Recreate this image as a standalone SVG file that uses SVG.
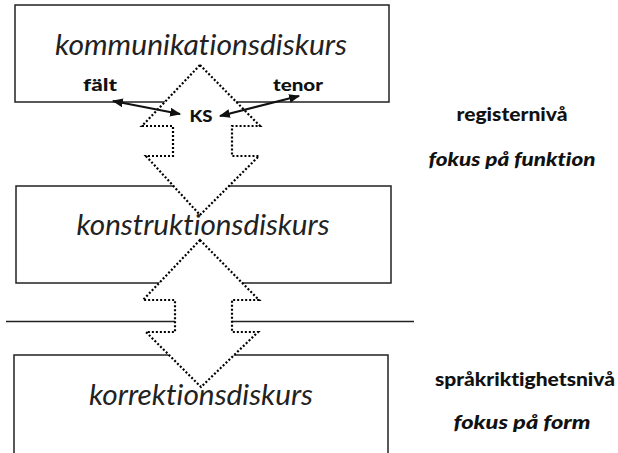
<svg xmlns="http://www.w3.org/2000/svg" width="618" height="453" viewBox="0 0 618 453">
<style>
text{font-variant-ligatures:none;font-feature-settings:"liga" 0}
.box{fill:#fff;stroke:#222;stroke-width:1.5}
.dot{fill:#fff;stroke:#000;stroke-width:2.2;stroke-dasharray:2 2}
.big{font-family:Lato,"Open Sans",sans-serif;font-style:italic;font-size:28px;fill:#222;text-anchor:middle}
.lbl{font-family:Lato,"Open Sans",sans-serif;font-weight:900;font-size:17px;fill:#111;text-anchor:middle}
.side{font-family:Lato,"Open Sans",sans-serif;font-weight:900;font-size:18.5px;fill:#111;text-anchor:middle}
.it{font-style:italic}
.conn{stroke:#111;stroke-width:2;fill:none}
</style>
<defs>
<marker id="ah" viewBox="0 0 10 8" refX="9" refY="4" markerWidth="11" markerHeight="9" markerUnits="userSpaceOnUse" orient="auto-start-reverse">
<path d="M0,0 L10,4 L0,8 Z" fill="#111"/>
</marker>
</defs>
<rect width="618" height="453" fill="#fff"/>
<g id="box-kommunikation"><rect class="box" x="15" y="5" width="374" height="97"/></g>
<g id="box-konstruktion"><rect class="box" x="16" y="186" width="375" height="97"/></g>
<g id="box-korrektion"><rect class="box" x="14" y="355" width="374" height="100"/></g>
<g id="divider"><line x1="6" y1="321.5" x2="414" y2="321.5" stroke="#222" stroke-width="1.5"/></g>
<g id="arrow-1"><path class="dot" d="M200,65 L260,126 L232,126 L232,156 L259,156 L200,215 L146,156 L173,156 L173,126 L142,126 Z"/></g>
<g id="arrow-2"><path class="dot" d="M200,240 L259,300 L232,300 L232,332 L258,332 L201,387 L146,332 L175,332 L175,300 L143,300 Z"/></g>
<g id="connectors">
<line class="conn" x1="113" y1="101" x2="180" y2="114" marker-start="url(#ah)" marker-end="url(#ah)"/>
<line class="conn" x1="220" y1="116" x2="299" y2="96" marker-start="url(#ah)" marker-end="url(#ah)"/>
</g>
<g id="texts">
<text class="big" x="201" y="55" textLength="292" lengthAdjust="spacingAndGlyphs">kommunikationsdiskurs</text>
<text class="big" x="203" y="235" textLength="253" lengthAdjust="spacingAndGlyphs">konstruktionsdiskurs</text>
<text class="big" x="201" y="405" textLength="224" lengthAdjust="spacingAndGlyphs">korrektionsdiskurs</text>
<text class="lbl" x="100" y="91" textLength="34" lengthAdjust="spacingAndGlyphs">fält</text>
<text class="lbl" x="298" y="91" textLength="50" lengthAdjust="spacingAndGlyphs">tenor</text>
<text class="lbl" x="201" y="122" textLength="23" lengthAdjust="spacingAndGlyphs">KS</text>
<text class="side" x="512" y="121" textLength="111" lengthAdjust="spacingAndGlyphs">registernivå</text>
<text class="side it" x="512" y="166" textLength="167" lengthAdjust="spacingAndGlyphs">fokus på funktion</text>
<text class="side" x="525" y="386" textLength="180" lengthAdjust="spacingAndGlyphs">språkriktighetsnivå</text>
<text class="side it" x="522" y="429" textLength="137" lengthAdjust="spacingAndGlyphs">fokus på form</text>
</g>
</svg>
